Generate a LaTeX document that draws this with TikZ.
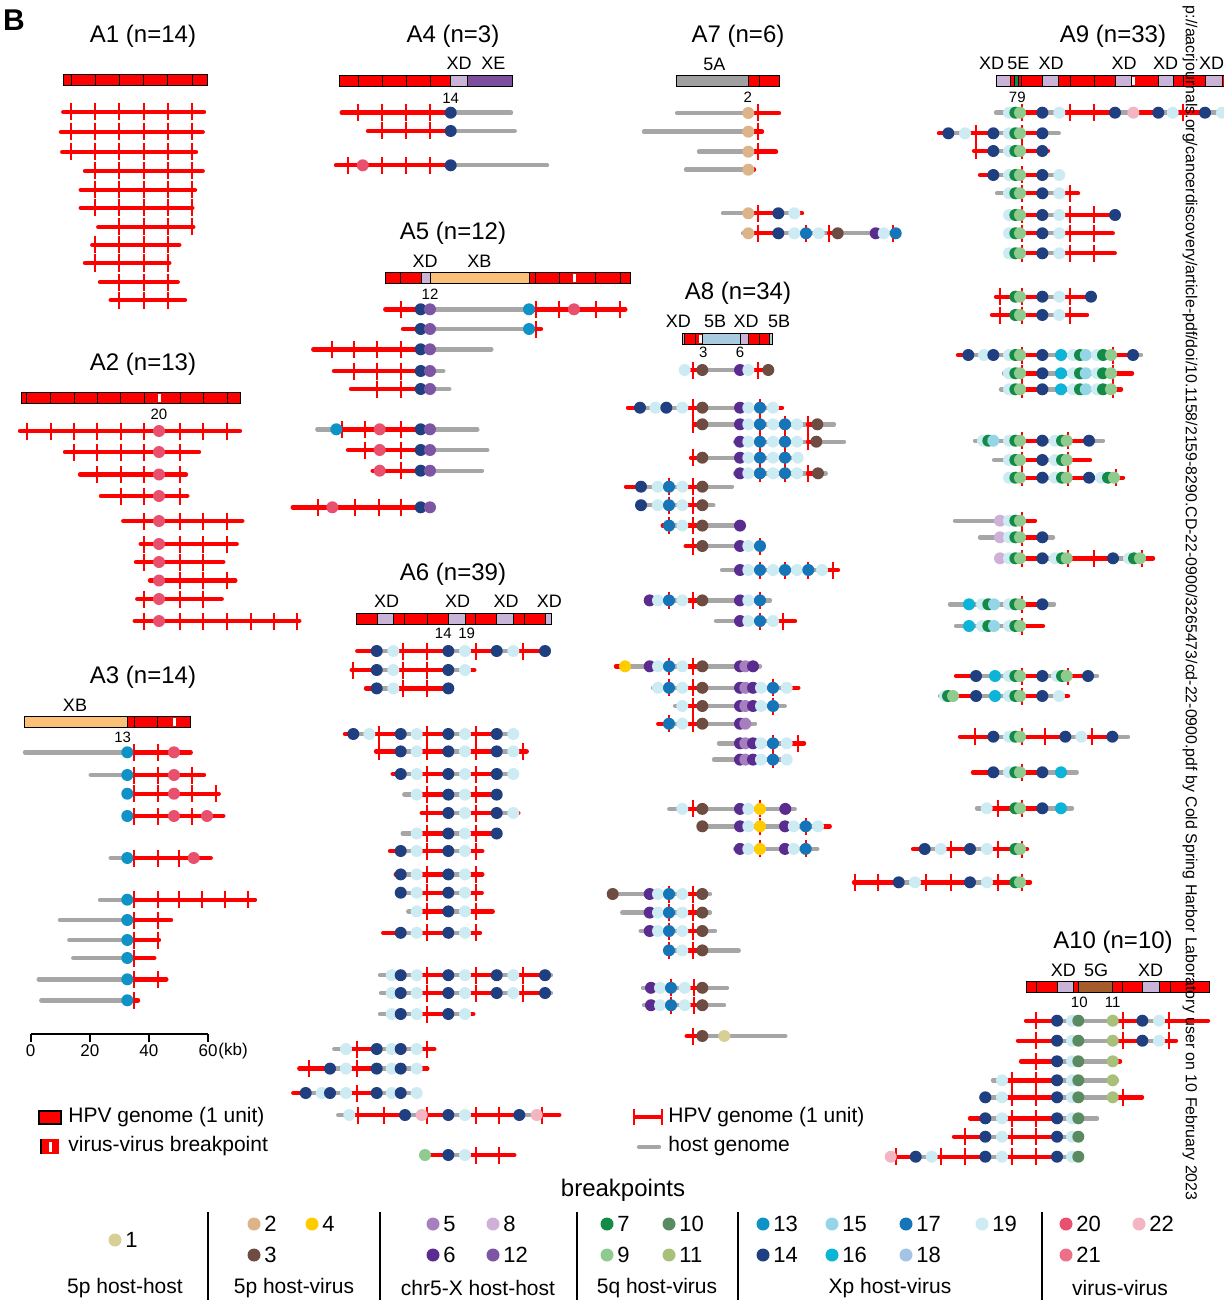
\documentclass[tikz,border=0pt]{standalone}
\usepackage{fontspec}
\setmainfont{Liberation Sans}
\usetikzlibrary{positioning}

\definecolor{vir}{HTML}{FF0000}
\definecolor{hst}{HTML}{A6A6A6}
\definecolor{segxd}{HTML}{C9B3D6}
\definecolor{segxe}{HTML}{7D4E9E}
\definecolor{segxb}{HTML}{FAC078}
\definecolor{seg5a}{HTML}{A0A0A0}
\definecolor{seg5b}{HTML}{A8CCDF}
\definecolor{seg5g}{HTML}{A65B2B}
\definecolor{seg5e}{HTML}{138A46}
\definecolor{bp1}{HTML}{D8CF97}
\definecolor{bp2}{HTML}{DDB48A}
\definecolor{bp3}{HTML}{6E4C42}
\definecolor{bp4}{HTML}{FFCC00}
\definecolor{bp5}{HTML}{A57FBE}
\definecolor{bp6}{HTML}{5B2C8F}
\definecolor{bp7}{HTML}{138A46}
\definecolor{bp8}{HTML}{CFB0D8}
\definecolor{bp9}{HTML}{8FCB8F}
\definecolor{bp10}{HTML}{5A8A60}
\definecolor{bp11}{HTML}{A9C07A}
\definecolor{bp12}{HTML}{7E55A5}
\definecolor{bp13}{HTML}{0E93C7}
\definecolor{bp14}{HTML}{1F3F80}
\definecolor{bp15}{HTML}{94D5E8}
\definecolor{bp16}{HTML}{0CB4D8}
\definecolor{bp17}{HTML}{1476B8}
\definecolor{bp18}{HTML}{A3C4E4}
\definecolor{bp19}{HTML}{CDEBF3}
\definecolor{bp20}{HTML}{E8506E}
\definecolor{bp21}{HTML}{EC7088}
\definecolor{bp22}{HTML}{F4B5C3}

\tikzset{
  trk/.style={line width=2.2pt, line cap=round},
  tickmark/.style={draw=vir, line width=1pt},
  bar/.style={draw=black, line width=0.5pt},
  ttl/.style={inner sep=0pt, font=\fontsize{12}{14}\selectfont},
  seglbl/.style={inner sep=0pt, font=\fontsize{9}{10}\selectfont},
  bplbl/.style={inner sep=0pt, font=\fontsize{7.5}{9}\selectfont},
  lgd/.style={inner sep=0pt, anchor=west, font=\fontsize{10.5}{12}\selectfont},
  num/.style={inner sep=0pt, anchor=west, font=\fontsize{11}{13}\selectfont},
  cat/.style={inner sep=0pt, font=\fontsize{10.5}{12}\selectfont},
}

\newcommand{\rd}[4]{%
  \foreach \a/\b/\s in {#2}{\draw[trk, draw=\s] (\a,#1) -- (\b,#1);}%
  \if\relax\detokenize{#3}\relax\else\foreach \t in {#3}{\draw[tickmark] (\t,#1-8.5) -- (\t,#1+8.5);}\fi
  \if\relax\detokenize{#4}\relax\else\foreach \x/\n in {#4}{\fill[fill=bp\n] (\x,#1) circle[radius=6];}\fi}
\newcommand{\gbar}[3]{%
  \foreach \a/\b/\c in {#2}{\filldraw[bar, fill=\c] (\a,#1) rectangle (\b,#1+11);}%
  \foreach \d in {#3}{\draw[bar] (\d,#1) -- (\d,#1+11);}}
\newcommand{\vvb}[2]{\fill[white] (#2-1.5,#1+1.5) rectangle (#2+1.5,#1+9.5);}

\begin{document}
\begin{tikzpicture}[x=0.5pt, y=-0.5pt]
\useasboundingbox (0,0) rectangle (1223,1300);
\node[inner sep=0pt, font=\fontsize{15}{17}\selectfont\bfseries] (lblb) at (14,20) {B};

\node[ttl] (ta1) at (143,36) {A1 (n=14)};
\gbar{75}{63/207/vir}{71,95.2,119.4,143.6,167.8,192}
\rd{112}{63.3/204/vir}{71,95.2,119.4,143.6,167.8,192}{}
\rd{132}{61/202.7/vir}{71,95.2,119.4,143.6,167.8,192}{}
\rd{152}{62.3/196/vir}{71,95.2,119.4,143.6,167.8,192}{}
\rd{171}{85/202.7/vir}{95.2,119.4,143.6,167.8,192}{}
\rd{190}{80.7/195/vir}{95.2,119.4,143.6,167.8,192}{}
\rd{208}{80.7/192.3/vir}{95.2,119.4,143.6,167.8,192}{}
\rd{227}{98.3/193.3/vir}{119.4,143.6,167.8,192}{}
\rd{245}{92.3/179.3/vir}{95.2,119.4,143.6,167.8}{}
\rd{263}{85/169.3/vir}{95.2,119.4,143.6,167.8}{}
\rd{282}{100/177.7/vir}{119.4,143.6,167.8}{}
\rd{300}{110.7/185/vir}{119.4,143.6,167.8}{}

\node[ttl] (ta2) at (143,364) {A2 (n=13)};
\gbar{392.5}{21/240/vir}{26.7,50.7,74,97.3,120.7,144,180,203.3,227.3}
\vvb{392.5}{159}
\node[bplbl] (ba2) at (159,414) {20};
\rd{431}{20/240/vir}{26.7,50.7,74,97.3,120.7,144,180,203.3,227.3}{159/20}
\rd{452}{65/199/vir}{74,97.3,120.7,144,180}{159/20}
\rd{474.5}{80/186/vir}{97.3,120.7,144,180}{159/20}
\rd{496}{101/187.3/vir}{120.7,144,180}{159/20}
\rd{521}{123.3/242.3/vir}{144,180,203.3,227.3}{159/20}
\rd{544}{140.7/236.7/vir}{144,180,203.3,227.3}{159/20}
\rd{562}{136/223.3/vir}{144,180,203.3}{159/20}
\rd{580.5}{150/235.3/vir}{180,203.3,227.3}{159/20}
\rd{599}{137.3/221.7/vir}{144,180,203.3}{159/20}
\rd{621}{134.7/299.3/vir}{144,180,203.3,227.3,250.5,273.7,296.5}{159/20}

\node[ttl] (ta3) at (143,677) {A3 (n=14)};
\node[seglbl] (sa3xb) at (75,705) {XB};
\gbar{716.5}{24.3/127.3/segxb,127.3/190.7/vir}{134.3,157.7}
\vvb{716.5}{174}
\node[bplbl] (ba3) at (122.7,737) {13};
\rd{752.3}{25/127.3/hst,127.3/190.7/vir}{133.7,157.7}{127.3/13,174/20}
\rd{775}{90.7/127.3/hst,127.3/204/vir}{133.7,157.7,192.3}{127.3/13,174/20}
\rd{793.7}{127.3/218.7/vir}{133.7,157.7,192.3,216.3}{127.3/13,174/20}
\rd{816}{127.3/223.3/vir}{133.7,157.7,192.3}{127.3/13,174/20,207/20}
\rd{858}{110.7/127.3/hst,127.3/210.7/vir}{133.7,157.7,179.3}{127.3/13,193.7/20}
\rd{899.7}{100/127.3/hst,127.3/255/vir}{133.7,157.7,179,202,225.3,248.3}{127.3/13}
\rd{920}{60/127.3/hst,127.3/171/vir}{133.7,157.7}{127.3/13}
\rd{940}{69.3/127.3/hst,127.3/159/vir}{133.7,157.7}{127.3/13}
\rd{958}{73.3/127.3/hst,127.3/154.3/vir}{133.7}{127.3/13}
\rd{979.3}{38.7/127.3/hst,127.3/166.3/vir}{133.7,157.7}{127.3/13}
\rd{1000.3}{41.3/127.3/hst,127.3/138/vir}{133.7}{127.3/13}

\draw[line width=1pt] (30.7,1034) -- (208,1034);
\foreach \v/\x in {0/30.7,20/89.8,40/148.9,60/208}{
  \draw[line width=1pt] (\x,1034) -- (\x,1042);
  \node[inner sep=0pt, font=\fontsize{8.5}{10}\selectfont] (sc\v) at (\x,1051) {\v};}
\node[inner sep=0pt, anchor=west, font=\fontsize{8.5}{10}\selectfont] (sckb) at (218,1051) {(kb)};

\node[ttl] (ta4) at (453,36) {A4 (n=3)};
\node[seglbl] (sa4xd) at (459,63.5) {XD};
\node[seglbl] (sa4xe) at (493.3,63.5) {XE};
\gbar{75.5}{339.3/450.7/vir,450.7/467.7/segxd,467.7/512.3/segxe}{358.3,382.3,406,430}
\node[bplbl] (ba4) at (450.7,98) {14};
\rd{112.7}{341.7/450.7/vir,450.7/511/hst}{358.3,382.3,406,430}{450.7/14}
\rd{131}{368/450.7/vir,450.7/514.7/hst}{382.3,406,430}{450.7/14}
\rd{165.3}{336/450.7/vir,450.7/547/hst}{348.3,382.3,406,430}{362.7/20,450.7/14}

\node[ttl] (ta5) at (453,233) {A5 (n=12)};
\node[seglbl] (sa5xd) at (425,261) {XD};
\node[seglbl] (sa5xb) at (479.3,261) {XB};
\gbar{272.5}{385.3/421/vir,421/430/segxd,430/529/segxb,529/630/vir}{400.7,535.7,559.3,595.7,620}
\vvb{272.5}{574}
\node[bplbl] (ba5) at (430,294) {12};
\rd{309.3}{385.3/420.7/vir,420.7/529/hst,529/625.3/vir}{400.7,535.7,559.3,595.7,619.7}{420.7/14,430/12,529/13,574/20}
\rd{329}{403/420.7/vir,420.7/529/hst,529/541/vir}{535.7}{420.7/14,430/12,529/13}
\rd{349.3}{313.3/420.7/vir,420.7/491.3/hst}{331.7,354,376.7,400.7}{420.7/14,430/12}
\rd{371}{334/420.7/vir,420.7/443.3/hst}{354,376.7,400.7}{420.7/14,430/12}
\rd{389}{351/420.7/vir,420.7/449.3/hst}{376.7,400.7}{420.7/14,430/12}
\rd{429.3}{317.3/336.3/hst,336.3/420.7/vir,420.7/477.3/hst}{341.7,365,400.7}{336.3/13,379.7/20,420.7/14,430/12}
\rd{450}{348/420.7/vir,420.7/487.3/hst}{365,400.7}{379.7/20,420.7/14,430/12}
\rd{470.7}{372.7/420.7/vir,420.7/482/hst}{400.7}{379.7/20,420.7/14,430/12}
\rd{507.3}{292.7/420.7/vir}{318,354.7,378.7,400.7}{332.3/20,420.7/14,430/12}

\node[ttl] (ta6) at (453,574) {A6 (n=39)};
\foreach \x [count=\i] in {386.7,457.7,506,549.3}{\node[seglbl] (sa6xd\i) at (\x,601.5) {XD};}
\gbar{613.5}{356.7/377.3/vir,377.3/393.3/segxd,393.3/448.3/vir,448.3/465/segxd,465/496.7/vir,496.7/513.3/segxd,513.3/545/vir,545/551.7/segxd}{404.3,427.3,475.7,524}
\node[bplbl] (ba6a) at (443.3,633) {14};
\node[bplbl] (ba6b) at (466.7,633) {19};
\rd{651}{357.3/376.7/vir,376.7/393.3/hst,393.3/448.3/vir,448.3/465/hst,465/496.7/vir,496.7/513.3/hst,513.3/545/vir}{403.3,427.3,475.7,523.3}{376.7/14,393.3/19,448.3/14,465/19,496.7/14,513.3/19,545/14}
\rd{670}{351.7/376.7/vir,376.7/393.3/hst,393.3/448.3/vir,448.3/465/hst,465/474.3/vir}{353.3,403.3,427.3}{376.7/14,393.3/19,448.3/14,465/19}
\rd{688.4}{366/376.7/vir,376.7/393.3/hst,393.3/448.3/vir}{403.3,427.3}{376.7/14,393.3/19,448.3/14}
\rd{734}{345/353.3/vir,353.3/369.3/hst,369.3/400.7/vir,400.7/416.7/hst,416.7/448.3/vir,448.3/465/hst,465/496.7/vir,496.7/513.3/hst}{379.3,427.3,475.7}{353.3/14,369.3/19,400.7/14,416.7/19,448.3/14,465/19,496.7/14,513.3/19}
\rd{751.4}{376/400.7/vir,400.7/416.7/hst,416.7/448.3/vir,448.3/465/hst,465/496.7/vir,496.7/513.3/hst,513.3/526.7/vir}{379.3,427.3,475.7,523.3}{400.7/14,416.7/19,448.3/14,465/19,496.7/14,513.3/19}
\rd{774}{392.7/400.7/vir,400.7/416.7/hst,416.7/448.3/vir,448.3/465/hst,465/496.7/vir,496.7/513.3/hst}{427.3,475.7}{400.7/14,416.7/19,448.3/14,465/19,496.7/14,513.3/19}
\rd{794.6}{404.3/416.7/hst,416.7/448.3/vir,448.3/465/hst,465/496.7/vir}{427.3,475.7}{416.7/19,448.3/14,465/19,496.7/14}
\rd{813}{421.7/448.3/vir,448.3/465/hst,465/496.7/vir,496.7/513.3/hst,513.3/518.3/vir}{427.3,475.7}{448.3/14,465/19,496.7/14,513.3/19}
\rd{833.5}{402.7/416.7/hst,416.7/448.3/vir,448.3/465/hst,465/496.7/vir}{427.3,475.7}{416.7/19,448.3/14,465/19,496.7/14}
\rd{851}{390/400.7/vir,400.7/416.7/hst,416.7/448.3/vir,448.3/465/hst,465/482.3/vir}{427.3,475.7}{400.7/14,416.7/19,448.3/14,465/19}
\rd{874.4}{395.7/400.7/vir,400.7/416.7/hst,416.7/448.3/vir,448.3/465/hst,465/482.3/vir}{427.3,475.7}{400.7/14,416.7/19,448.3/14,465/19}
\rd{892.7}{400.7/416.7/hst,416.7/448.3/vir,448.3/465/hst,465/481.7/vir}{427.3,475.7}{400.7/14,416.7/19,448.3/14,465/19}
\rd{911.4}{408.3/416.7/hst,416.7/448.3/vir,448.3/465/hst,465/492.7/vir}{427.3,475.7}{416.7/19,448.3/14,465/19}
\rd{932.8}{383.3/400.7/vir,400.7/416.7/hst,416.7/448.3/vir,448.3/465/hst,465/480/vir}{427.3,475.7}{400.7/14,416.7/19,448.3/14,465/19}
\rd{975.2}{380/416.7/hst,416.7/448.3/vir,448.3/465/hst,465/496.7/vir,496.7/513.3/hst,513.3/545/vir,545/551/hst}{427.3,475.7,523.3}{391.7/19,400.7/14,416.7/19,448.3/14,465/19,496.7/14,513.3/19,545/14}
\rd{993}{381/416.7/hst,416.7/448.3/vir,448.3/465/hst,465/496.7/vir,496.7/513.3/hst,513.3/545/vir,545/551/hst}{427.3,475.7,523.3}{391.7/19,400.7/14,416.7/19,448.3/14,465/19,496.7/14,513.3/19,545/14}
\rd{1014}{380/416.7/hst,416.7/448.3/vir,448.3/465/hst,465/473.3/vir}{427.3}{391.7/19,400.7/14,416.7/19,448.3/14,465/19}
\rd{1049}{334.3/346/hst,346/376.7/vir,376.7/416.7/hst,416.7/434.3/vir}{356.7,427.3}{346/19,376.7/14,391.7/19,400.7/14,416.7/19}
\rd{1068.6}{299.3/330/vir,330/346/hst,346/376.7/vir,376.7/416.7/hst,416.7/427.3/vir}{309.3,356.7}{330/14,346/19,376.7/14,391.7/19,400.7/14,416.7/19}
\rd{1093}{293.3/305.7/vir,305.7/346/hst,346/376.7/vir,376.7/416.7/hst}{356.7}{305.7/14,321.7/19,330/14,346/19,376.7/14,391.7/19,400.7/14,416.7/19}
\rd{1115}{338.3/349.3/hst,349.3/405/vir,405/421.7/hst,421.7/448.3/vir,448.3/465/hst,465/519.3/vir,519.3/536.7/hst,536.7/559.3/vir}{358.3,384.3,427.3,475.7,499,541.7}{349.3/19,405/14,421.7/22,448.3/14,465/19,519.3/14,536.7/22}
\rd{1155}{425/448.3/vir,448.3/465/hst,465/514.3/vir}{475.7,499}{425/9,448.3/14,465/19}

\node[ttl] (ta7) at (738,36) {A7 (n=6)};
\node[seglbl] (sa75a) at (714.3,64) {5A};
\gbar{75.5}{676/748.3/seg5a,748.3/779/vir}{759}
\node[bplbl] (ba7) at (747.7,97.5) {2};
\rd{113}{677/748.3/hst,748.3/779/vir}{758}{748.3/2}
\rd{131.7}{644/748.3/hst,748.3/762/vir}{758}{748.3/2}
\rd{151.7}{699/748.3/hst,748.3/776/vir}{758}{748.3/2}
\rd{169.7}{686/748.3/hst,748.3/754/vir}{}{748.3/2}
\rd{213.3}{723/748.3/hst,748.3/778.3/vir,778.3/794.3/hst,794.3/802/vir}{758}{748.3/2,778.3/14,794.3/19}
\rd{233.3}{743/748.3/hst,748.3/778.3/vir,778.3/829/hst,829/837.7/vir,837.7/893/hst,893/897/vir}{758,806,829,893}{748.3/2,778.3/14,794.3/19,806/17,818.7/19,837.7/3,875.7/6,883.7/19,895.7/17}

\node[ttl] (ta8) at (738,293) {A8 (n=34)};
\node[seglbl] (sa8xd1) at (678.3,321.5) {XD};
\node[seglbl] (sa85b1) at (715,321.5) {5B};
\node[seglbl] (sa8xd2) at (746,321.5) {XD};
\node[seglbl] (sa85b2) at (779,321.5) {5B};
\gbar{333}{682.3/684.7/segxd,684.7/702/vir,702/740/seg5b,740/748/segxd,748/769/vir,769/772.7/seg5b}{695.7,759.3}
\vvb{333}{700}
\node[bplbl] (ba8a) at (703.3,352.5) {3};
\node[bplbl] (ba8b) at (740,352.5) {6};
\rd{370}{684.7/702.3/vir,702.3/748.3/hst,748.3/768.3/vir}{693.3,758.3}{684.7/19,702.3/3,740/6,748.3/19,768.3/3}
\rd{407.7}{628/640/vir,640/682.3/hst,682.3/702.3/vir,702.3/773/hst,773/782/vir}{693,760}{640/14,655.3/19,666.3/14,682.3/19,702.3/3,740/6,748.3/19,760/17,773/19}
\rd{424.3}{694/702.3/vir,702.3/808/hst,808/817.3/vir,817.3/834/hst}{693.3,760,785,808}{702.3/3,740/6,748.3/19,760/17,773/19,785/17,797/19,817.3/3}
\rd{441.7}{735/808/hst,808/816.3/vir,816.3/844/hst}{760,785,807.7}{740/6,748.3/19,760/17,773/19,785/17,797/19,816.3/3}
\rd{457.7}{691/702.3/vir,702.3/797.7/hst}{693.3,760,785}{702.3/3,740/6,748.3/19,760/17,773/19,785/17,797.7/19}
\rd{473.3}{735/808/hst,808/818/vir,818/825.7/hst}{760,785,808}{740/6,748.3/19,760/17,773/19,785/17,797/19,818/3}
\rd{486.7}{626/641/vir,641/682.3/hst,682.3/702.3/vir,702.3/732/hst}{669,692.7}{641/14,657.7/19,669/17,682.3/19,702.3/3}
\rd{505.2}{641/682.3/hst,682.3/702.3/vir,702.3/713.3/hst}{669,692.7}{641/14,657.7/19,669/17,682.3/19,702.3/3}
\rd{525.6}{662.7/669/vir,669/682.3/hst,682.3/702.3/vir,702.3/740/hst}{669,692.7}{669/17,682.3/19,702.3/3,740/6}
\rd{546}{685.7/702.3/vir,702.3/760/hst}{692.7,760}{702.3/3,740/6,748.3/19,760/17}
\rd{570}{722/822/hst,822/838/vir}{760,785,808.3,832.7}{740/6,748.3/19,760/17,773/19,785/17,797/19,808.3/17,822/19}
\rd{600.4}{649.7/682.3/hst,682.3/702.3/vir,702.3/770/hst}{669,692.7,760}{649.7/6,658/19,669/17,682.3/19,702.3/3,740/6,748.3/19,760/17}
\rd{621}{716/773/hst,773/795/vir}{760,783.3}{740/6,748.3/19,760/17,773/19}
\rd{666.3}{616/625/vir,625/682.3/hst,682.3/702.3/vir,702.3/760/hst}{669,692.7}{625/4,649.7/6,658/19,669/17,682.3/19,702.3/3,740/6,745.3/5,753/6}
\rd{687.8}{653/682.3/hst,682.3/702.3/vir,702.3/786.7/hst,786.7/798.3/vir}{669,692.7,773}{658/19,669/17,682.3/19,702.3/3,740/6,745.3/5,753/6,761/19,773/17,786.7/19}
\rd{706}{675/682.3/hst,682.3/702.3/vir,702.3/784.7/hst}{692.7,773}{682.3/19,702.3/3,740/6,745.3/5,753/6,761/19,773/17}
\rd{723.7}{658.3/669/vir,669/682.3/hst,682.3/702.3/vir,702.3/755/hst}{669,692.7}{669/17,682.3/19,702.3/3,740/6,745.3/5}
\rd{743.3}{719/786.7/hst,786.7/804/vir}{773,797.7}{740/6,745.3/5,753/6,761/19,773/17,786.7/19}
\rd{759.6}{714/786.7/hst}{773}{740/6,745.3/5,753/6,761/19,773/17,786.7/19}
\rd{808.9}{669.3/682.3/hst,682.3/702.3/vir,702.3/794.7/hst}{692.7,760}{682.3/19,702.3/3,740/6,748.3/19,760/4,785.3/6}
\rd{826.3}{702.3/818/hst,818/829.7/vir}{760,805.7}{702.3/3,740/6,748.3/19,760/4,785/6,793.7/19,805.7/17,818/19}
\rd{848.9}{735/817.3/hst}{760,805.7}{740/6,748.3/19,760/4,785/6,793.7/19,805.7/17}
\rd{894}{612.7/682.3/hst,682.3/702.3/vir,702.3/710/hst}{669,692.7}{612.7/3,649.7/6,658/19,669/17,682.3/19,702.3/3}
\rd{912.6}{622.3/682.3/hst,682.3/702.3/vir,702.3/710/hst}{669,692.7}{649.7/6,658/19,669/17,682.3/19,702.3/3}
\rd{931}{640.7/682.3/hst,682.3/702.3/vir,702.3/715/hst}{669,692.7}{649.7/6,658/19,669/17,682.3/19,702.3/3}
\rd{950.4}{665/682.3/hst,682.3/702.3/vir,702.3/738.7/hst}{669,692.7}{669/17,682.3/19,702.3/3}
\rd{987.8}{643/684.7/hst,684.7/702.3/vir,702.3/727/hst}{671,694}{651/6,660/19,671/17,684.7/19,702.3/3}
\rd{1005.2}{644/684.7/hst,684.7/702.3/vir,702.3/724/hst}{671,694}{651/6,660/19,671/17,684.7/19,702.3/3}
\rd{1036}{686.7/702.3/vir,702.3/785.3/hst}{692.7}{702.3/3,724.3/1}

\node[ttl] (ta9) at (1113,36) {A9 (n=33)};
\foreach \x/\t [count=\i] in {991.7/XD,1018.3/5E,1051/XD,1124/XD,1165.7/XD,1211.7/XD}{\node[seglbl] (sa9l\i) at (\x,63.5) {\t};}
\gbar{75.5}{996.7/1010.7/segxd,1010.7/1014.7/vir,1014.7/1018.3/seg5e,1018.3/1042/vir,1042/1058.7/segxd,1058.7/1115/vir,1115/1131/segxd,1131/1158/vir,1158/1173/segxd,1173/1205.7/vir,1205.7/1222/segxd,1222/1240/vir}{1021.7,1070,1094,1183.3}
\vvb{75.5}{1133.3}
\node[bplbl] (ba9) at (1017.3,97.5) {79};
\rd{112.7}{996/1020/hst,1020/1042.3/vir,1042.3/1059.3/hst,1059.3/1115/vir,1115/1133.3/hst,1133.3/1158.3/vir,1158.3/1172.7/hst,1172.7/1205/vir,1205/1230/hst}{1021.7,1069.7,1094,1183.3}{1009/19,1015.3/7,1020/9,1042.3/14,1059.3/19,1115/14,1133.3/22,1158.3/14,1172.7/19,1205/14,1222/19}
\rd{133.3}{939/948.3/vir,948.3/965/hst,965/993.3/vir,993.3/1020/hst,1020/1042.3/vir,1042.3/1058.7/hst}{975.7,1021.7}{948.3/14,965/19,993.3/14,1009/19,1015.3/7,1020/9,1042.3/14}
\rd{151}{974/993.3/vir,993.3/1020/hst,1020/1048/vir}{975.7,1021.7}{993.3/14,1009/19,1015.3/7,1020/9,1042.3/14}
\rd{175}{980/993.3/vir,993.3/1020/hst,1020/1042.3/vir,1042.3/1059.3/hst}{1021.7}{993.3/14,1009/19,1015.3/7,1020/9,1042.3/14,1059.3/19}
\rd{193.3}{997/1020/hst,1020/1042.3/vir,1042.3/1059.3/hst,1059.3/1078/vir}{1021.7,1069.7}{1009/19,1015.3/7,1020/9,1042.3/14,1059.3/19}
\rd{215}{1009/1020/hst,1020/1042.3/vir,1042.3/1059.3/hst,1059.3/1115/vir}{1021.7,1069.7,1094}{1009/19,1015.3/7,1020/9,1042.3/14,1059.3/19,1115/14}
\rd{233.3}{1009/1020/hst,1020/1042.3/vir,1042.3/1059.3/hst,1059.3/1112.7/vir}{1021.7,1069.7,1094}{1009/19,1015.3/7,1020/9,1042.3/14,1059.3/19}
\rd{253.3}{1009/1020/hst,1020/1042.3/vir,1042.3/1059.3/hst,1059.3/1114.7/vir}{1021.7,1069.7,1094}{1009/19,1015.3/7,1020/9,1042.3/14,1059.3/19}
\rd{296.7}{996/1042.3/vir,1042.3/1059.3/hst,1059.3/1091/vir}{1000,1021.7,1069.7}{1015.3/7,1020/9,1042.3/14,1059.3/19,1091/14}
\rd{315}{992/1042.3/vir,1042.3/1059.3/hst,1059.3/1087/vir}{1000,1021.7,1069.7}{1015.3/7,1020/9,1042.3/14,1059.3/19}
\rd{355}{958/968.3/vir,968.3/1020/hst,1020/1042.3/vir,1042.3/1111/hst,1111/1133/vir,1133/1141/hst}{1021.7,1113}{968.3/14,984/19,993.3/14,1009/19,1015.3/7,1020/9,1042.3/14,1061/16,1073/19,1080/7,1085.7/15,1097/19,1103/7,1111/9,1133/14}
\rd{373.3}{1004/1020/hst,1020/1042.3/vir,1042.3/1111/hst,1111/1132/vir}{1021.7,1113}{1009/19,1015.3/7,1020/9,1042.3/14,1061/16,1073/19,1080/7,1085.7/15,1097/19,1103/7,1111/9}
\rd{389.3}{1001/1020/hst,1020/1042.3/vir,1042.3/1111/hst,1111/1121/vir}{1021.7,1113}{1009/19,1015.3/7,1020/9,1042.3/14,1061/16,1073/19,1080/7,1085.7/15,1097/19,1103/7,1111/9}
\rd{440.7}{975/1020/hst,1020/1042.3/vir,1042.3/1066.7/hst,1066.7/1089/vir,1089/1103/hst}{1021.7,1068}{983/19,988.3/7,993.3/15,1009/19,1015.3/7,1020/9,1042.3/14,1055/19,1062/7,1066.7/9,1089/14}
\rd{460}{994/1020/hst,1020/1042.3/vir,1042.3/1066.7/hst,1066.7/1090/vir}{1021.7,1068}{1009/19,1015.3/7,1020/9,1042.3/14,1055/19,1062/7,1066.7/9}
\rd{477.7}{1006/1020/hst,1020/1042.3/vir,1042.3/1066.7/hst,1066.7/1089/vir,1089/1114/hst,1114/1123/vir}{1021.7,1068,1116}{1009/19,1015.3/7,1020/9,1042.3/14,1055/19,1062/7,1066.7/9,1089/14,1101/19,1108/7,1114/9}
\rd{520.7}{955/1020/hst,1020/1035/vir}{1021.7}{1000/8,1009/19,1015.3/7,1020/9}
\rd{537.3}{980/1020/hst,1020/1042.3/vir,1042.3/1053/hst}{1021.7}{1000/8,1009/19,1015.3/7,1020/9,1042.3/14}
\rd{558.3}{1000/1020/hst,1020/1042.3/vir,1042.3/1066.7/hst,1066.7/1113/vir,1113/1140/hst,1140/1153/vir}{1021.7,1068,1093.7,1142}{1000/8,1009/19,1015.3/7,1020/9,1042.3/14,1055/19,1062/7,1066.7/9,1113/14,1129/19,1134/7,1140/9}
\rd{604.3}{950/1020/hst,1020/1042.3/vir,1042.3/1054/hst}{1021.7}{969/16,982/19,988.3/7,994/15,1009/19,1015.3/7,1020/9,1042.3/14}
\rd{626}{956/1020/hst,1020/1043/vir}{1021.7}{969/16,982/19,988.3/7,994/15,1009/19,1015.3/7,1020/9}
\rd{676}{956/976/vir,976/1020/hst,1020/1042.3/vir,1042.3/1066.7/hst,1066.7/1088/vir,1088/1097/hst}{1021.7,1068}{976/14,995/16,1009/19,1015.3/7,1020/9,1042.3/14,1057/19,1062/7,1066.7/9,1088/14}
\rd{696}{940/953/hst,953/976/vir,976/1020/hst,1020/1042.3/vir,1042.3/1059/hst,1059/1068/vir}{1021.7}{945/19,948/7,953/9,976/14,995/16,1009/19,1015.3/7,1020/9,1042.3/14,1059/19}
\rd{736.7}{960/993.3/vir,993.3/1020/hst,1020/1065.3/vir,1065.3/1081.3/hst,1081.3/1112.3/vir,1112.3/1128/hst}{974.7,1021.7,1045,1092}{993.3/14,1009/19,1015.3/7,1020/9,1065.3/14,1081.3/19,1112.3/14}
\rd{772.3}{973/993.3/vir,993.3/1020/hst,1020/1042.3/vir,1042.3/1076.7/hst}{1021.7}{993.3/14,1009/19,1015.3/7,1020/9,1042.3/14,1061/16}
\rd{808.3}{977/986.7/hst,986.7/1042.3/vir,1042.3/1072/hst}{998,1021.7}{986.7/19,1015.3/7,1020/9,1042.3/14,1061/16}
\rd{849}{913/924.7/vir,924.7/940.7/hst,940.7/970/vir,970/987/hst,987/1027/vir}{950.7,998,1021.7}{924.7/14,940.7/19,970/14,987/19,1015.3/7,1020/9}
\rd{882.3}{854/898.7/vir,898.7/915/hst,915/970/vir,970/987/hst,987/1030/vir}{854.7,878,925.7,950.7,998,1021.7}{898.7/14,915/19,970/14,987/19,1015.3/7,1020/9}

\node[ttl] (ta10) at (1113,942) {A10 (n=10)};
\node[seglbl] (sa10xd1) at (1063.3,970) {XD};
\node[seglbl] (sa105g) at (1096,970) {5G};
\node[seglbl] (sa10xd2) at (1150.7,970) {XD};
\gbar{981.5}{1026/1057/vir,1057/1073.3/segxd,1073.3/1078.3/vir,1078.3/1112.7/seg5g,1112.7/1142.7/vir,1142.7/1159/segxd,1159/1209/vir}{1036.7,1122.7,1170}
\node[bplbl] (ba10a) at (1079.3,1002.5) {10};
\node[bplbl] (ba10b) at (1112.7,1002.5) {11};
\rd{1020.7}{1026/1057/vir,1057/1112.7/hst,1112.7/1142.3/vir,1142.3/1159/hst,1159/1208/vir}{1036.3,1122.7,1169.3}{1057/14,1072/19,1078.3/10,1112.7/11,1142.3/14,1159/19}
\rd{1040.7}{1018/1057/vir,1057/1112.7/hst,1112.7/1142.3/vir,1142.3/1159/hst,1159/1176/vir}{1036.3,1122.7,1169.3}{1057/14,1072/19,1078.3/10,1112.7/11,1142.3/14,1159/19}
\rd{1061.3}{1021/1057/vir,1057/1112.7/hst,1112.7/1120/vir}{1036.3}{1057/14,1072/19,1078.3/10,1112.7/11}
\rd{1080.3}{993/1002/hst,1002/1057/vir,1057/1117/hst}{1012.3,1036.3}{1002/19,1057/14,1072/19,1078.3/10,1112.7/11}
\rd{1097.3}{981/1002/hst,1002/1057/vir,1057/1112.7/hst,1112.7/1142/vir}{1012.3,1036.3,1122.7}{985.3/14,1002/19,1057/14,1072/19,1078.3/10,1112.7/11}
\rd{1118.3}{970/985.3/vir,985.3/1002/hst,1002/1057/vir,1057/1097/hst}{1012.3,1036.3}{985.3/14,1002/19,1057/14,1072/19,1078.3/10}
\rd{1136.7}{954/985.3/vir,985.3/1002/hst,1002/1057/vir,1057/1078.3/hst}{965,1012.3,1036.3}{985.3/14,1002/19,1057/14,1072/19,1078.3/10}
\rd{1156.7}{890.7/915.7/vir,915.7/931.7/hst,931.7/985.3/vir,985.3/1002/hst,1002/1057/vir,1057/1078.3/hst}{896,941.3,965,1012.3,1036.3}{890.7/22,915.7/14,931.7/19,985.3/14,1002/19,1057/14,1072/19,1078.3/10}

\filldraw[fill=vir, draw=black, line width=1pt] (38.5,1110.5) rectangle (61,1123.5);
\node[lgd] (lg1) at (68,1117) {HPV genome (1 unit)};
\fill[vir] (41,1139) rectangle (59,1154);
\draw[black, line width=0.8pt] (41,1139) -- (41,1154);
\fill[white] (48.5,1141.5) rectangle (52,1151.5);
\node[lgd] (lg2) at (68,1146) {virus-virus breakpoint};
\draw[trk, draw=vir, line cap=butt] (634,1117) -- (662,1117);
\draw[tickmark] (634,1109) -- (634,1125);
\draw[tickmark] (662,1109) -- (662,1125);
\node[lgd] (lg3) at (668,1117) {HPV genome (1 unit)};
\draw[trk, draw=hst] (639,1147) -- (659,1147);
\node[lgd] (lg4) at (668,1146) {host genome};

\node[inner sep=0pt, font=\fontsize{12}{14}\selectfont] (bpt) at (623,1190) {breakpoints};
\foreach \x in {208,380,577,738,1042}{\draw[line width=0.6pt] (\x,1212) -- (\x,1300);}
\foreach \x/\y/\n in {115/1240/1,254/1224/2,312/1224/4,254/1255/3,433/1224/5,493/1224/8,433/1255/6,493/1255/12,607/1224/7,669/1224/10,607/1255/9,669/1255/11,763/1224/13,832/1224/15,906/1224/17,982/1224/19,763/1255/14,832/1255/16,906/1255/18,1066/1224/20,1139/1224/22,1066/1255/21}{
  \fill[fill=bp\n] (\x,\y) circle[radius=6.5];
  \node[num] (lgn\n) at (\x+10,\y) {\n};}
\node[cat] (ct1) at (125,1288) {5p host-host};
\node[cat] (ct2) at (294,1288) {5p host-virus};
\node[cat] (ct3) at (478,1288) {chr5-X host-host};
\node[cat] (ct4) at (657,1288) {5q host-virus};
\node[cat] (ct5) at (890,1288) {Xp host-virus};
\node[cat] (ct6) at (1120,1288) {virus-virus};

\node[inner sep=0pt, rotate=-90, anchor=east, font=\fontsize{7.95}{9}\selectfont] (wm) at (1190,1201) {p://aacrjournals.org/cancerdiscovery/article-pdf/doi/10.1158/2159-8290.CD-22-0900/3265473/cd-22-0900.pdf by Cold Spring Harbor Laboratory user on 10 February 2023};
\end{tikzpicture}
\end{document}
